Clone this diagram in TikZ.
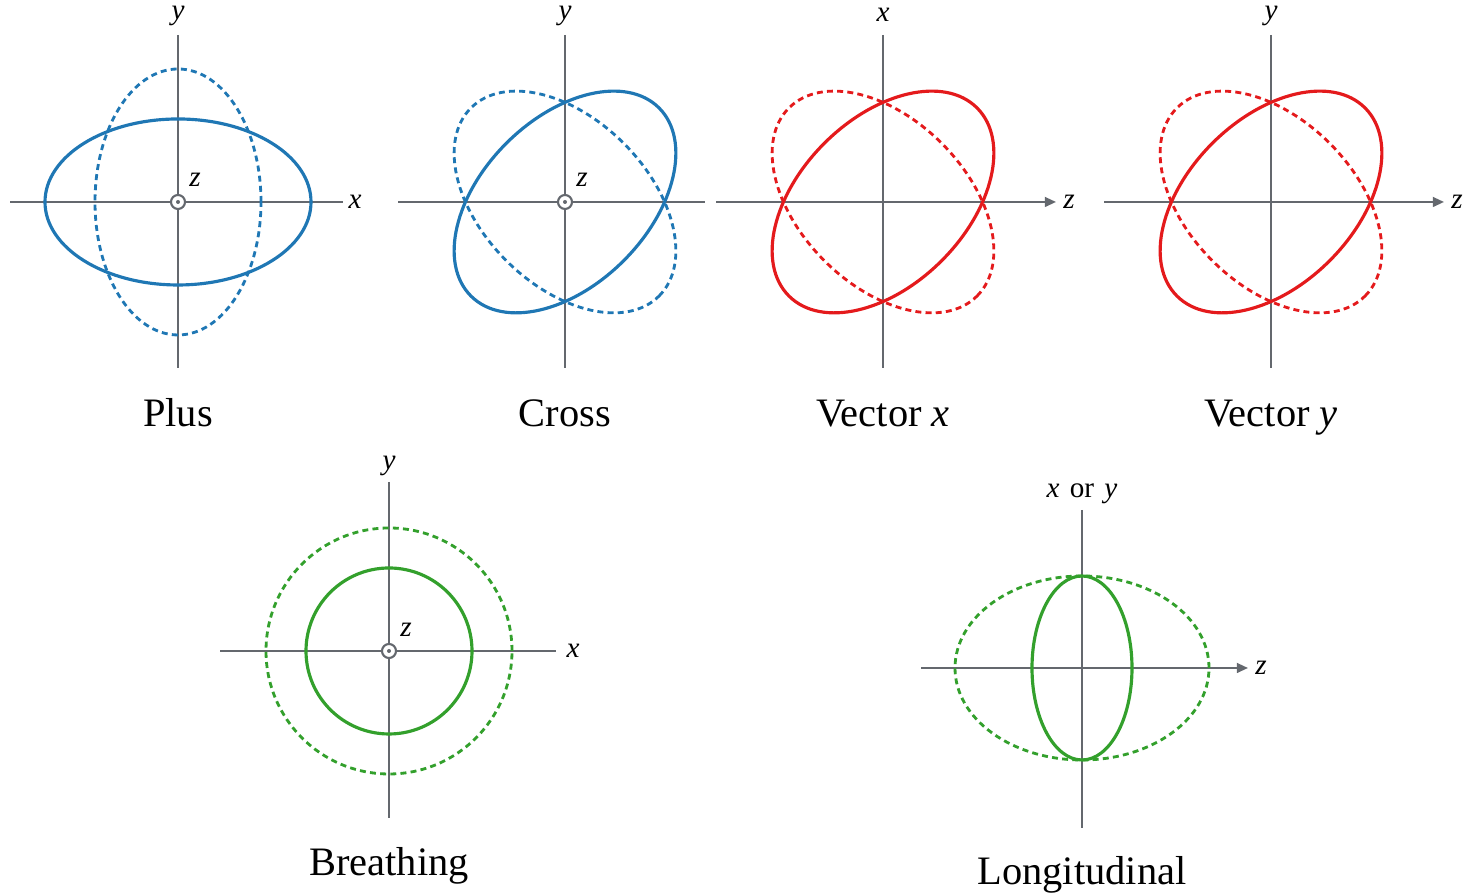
\documentclass[tikz,border=0pt]{standalone}
\usepackage{fontspec}
\setmainfont{Liberation Serif}
\usetikzlibrary{arrows.meta}

\definecolor{polblue}{RGB}{31,119,180}
\definecolor{polred}{RGB}{228,26,28}
\definecolor{polgreen}{RGB}{51,160,44}
\definecolor{axisgray}{RGB}{100,104,110}

\tikzset{
    axis/.style={draw=axisgray, line width=0.6pt},
    axisarrow/.style={axis, -{Triangle[length=3.2pt,width=2.8pt]}},
    wave/.style={line width=0.9pt},
    dashwave/.style={line width=0.8pt, dash pattern=on 1.7pt off 1.2pt},
    axislabel/.style={font=\fontsize{8.3}{9}\selectfont\itshape, inner sep=0pt},
    title/.style={font=\fontsize{11.5}{13}\selectfont, inner sep=0pt, anchor=base},
    marker/.style={draw=axisgray, line width=0.6pt}
}

\begin{document}
\begin{tikzpicture}
    \useasboundingbox (0,0) rectangle (14.66,8.93);

    % Plus
    \begin{scope}[shift={(1.78,6.91)}]
        \coordinate (plus) at (0,0);
        \draw[axis] (-1.68,0) -- (1.65,0);
        \draw[axis] (0,1.67) -- (0,-1.66);
        \draw[dashwave, polblue] (plus) ellipse [x radius=0.83, y radius=1.33];
        \draw[wave, polblue] (plus) ellipse [x radius=1.33, y radius=0.83];
        \draw[marker, fill=white] (plus) circle (0.07);
        \fill[axisgray] (plus) circle (0.02);
        \node (plusx) [axislabel] at (1.77,0) {x};
        \node (plusy) [axislabel] at (0,1.86) {y};
        \node (plusz) [axislabel] at (0.17,0.22) {z};
        \node (plustitle) [title] at (0,-2.25) {Plus};
    \end{scope}

    % Cross
    \begin{scope}[shift={(5.65,6.91)}]
        \coordinate (cross) at (0,0);
        \draw[axis] (-1.67,0) -- (1.40,0);
        \draw[axis] (0,1.67) -- (0,-1.66);
        \draw[dashwave, polblue, rotate=-45] (cross) ellipse [x radius=1.33, y radius=0.83];
        \draw[wave, polblue, rotate=45] (cross) ellipse [x radius=1.33, y radius=0.83];
        \draw[marker, fill=white] (cross) circle (0.07);
        \fill[axisgray] (cross) circle (0.02);
        \node (crossy) [axislabel] at (0,1.86) {y};
        \node (crossz) [axislabel] at (0.17,0.22) {z};
        \node (crosstitle) [title] at (0,-2.25) {Cross};
    \end{scope}

    % Vector x
    \begin{scope}[shift={(8.83,6.91)}]
        \coordinate (vecx) at (0,0);
        \draw[axisarrow] (-1.67,0) -- (1.73,0);
        \draw[axis] (0,1.67) -- (0,-1.66);
        \draw[dashwave, polred, rotate=-45] (vecx) ellipse [x radius=1.33, y radius=0.83];
        \draw[wave, polred, rotate=45] (vecx) ellipse [x radius=1.33, y radius=0.83];
        \node (vecxz) [axislabel] at (1.86,0) {z};
        \node (vecxx) [axislabel] at (0,1.87) {x};
        \node (vecxtitle) [title] at (0,-2.25) {Vector \textit{x}};
    \end{scope}

    % Vector y
    \begin{scope}[shift={(12.71,6.91)}]
        \coordinate (vecy) at (0,0);
        \draw[axisarrow] (-1.67,0) -- (1.73,0);
        \draw[axis] (0,1.67) -- (0,-1.66);
        \draw[dashwave, polred, rotate=-45] (vecy) ellipse [x radius=1.33, y radius=0.83];
        \draw[wave, polred, rotate=45] (vecy) ellipse [x radius=1.33, y radius=0.83];
        \node (vecyz) [axislabel] at (1.86,0) {z};
        \node (vecyy) [axislabel] at (0,1.86) {y};
        \node (vecytitle) [title] at (0,-2.25) {Vector \textit{y}};
    \end{scope}

    % Breathing
    \begin{scope}[shift={(3.89,2.42)}]
        \coordinate (breath) at (0,0);
        \draw[axis] (-1.69,0) -- (1.67,0);
        \draw[axis] (0,1.69) -- (0,-1.67);
        \draw[dashwave, polgreen] (breath) circle (1.23);
        \draw[wave, polgreen] (breath) circle (0.83);
        \draw[marker, fill=white] (breath) circle (0.07);
        \fill[axisgray] (breath) circle (0.02);
        \node (breathx) [axislabel] at (1.84,0) {x};
        \node (breathy) [axislabel] at (0,1.85) {y};
        \node (breathz) [axislabel] at (0.17,0.21) {z};
        \node (breathtitle) [title] at (0,-2.25) {Breathing};
    \end{scope}

    % Longitudinal
    \begin{scope}[shift={(10.82,2.25)}]
        \coordinate (longi) at (0,0);
        \draw[axisarrow] (-1.61,0) -- (1.66,0);
        \draw[axis] (0,1.58) -- (0,-1.60);
        \draw[dashwave, polgreen] (longi) ellipse [x radius=1.27, y radius=0.92];
        \draw[wave, polgreen] (longi) ellipse [x radius=0.50, y radius=0.92];
        \node (longiz) [axislabel] at (1.79,0) {z};
        \node (longixy) [axislabel] at (0,1.74) {x\hspace{0.35em}\upshape or\hspace{0.35em}\itshape y};
        \node (longititle) [title] at (0,-2.17) {Longitudinal};
    \end{scope}
\end{tikzpicture}
\end{document}
